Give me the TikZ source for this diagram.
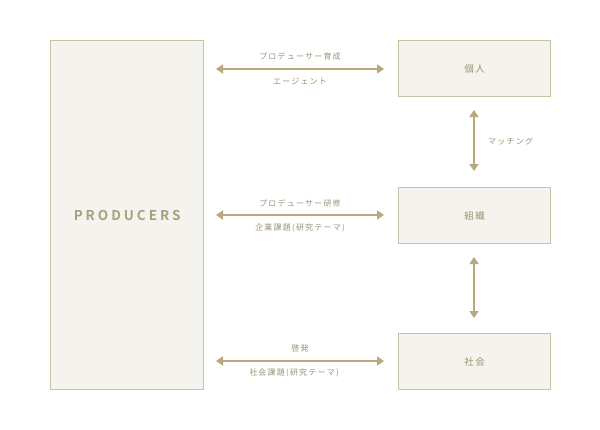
\documentclass[tikz,border=0pt]{standalone}
\usepackage{fontspec}
\setmainfont{Noto Sans CJK JP}
\newfontfamily\prodfont[LetterSpace=22]{Noto Sans CJK JP Bold}
\newfontfamily\lblfont[LetterSpace=15]{Noto Sans CJK JP}
\usetikzlibrary{arrows.meta}
\definecolor{boxfill}{HTML}{F5F3EE}
\definecolor{boxline}{HTML}{C9C3A3}
\definecolor{arrowc}{HTML}{B8A87C}
\definecolor{txtc}{HTML}{9A9274}
\definecolor{prodc}{HTML}{A8A07C}
\tikzset{
  box/.style={draw=boxline, fill=boxfill, line width=1.2pt, inner sep=0pt, text=txtc, font=\fontsize{9.5}{10}\lblfont},
  biarrow/.style={draw=arrowc, line width=2.2pt, {Triangle[length=7pt,width=9pt]}-{Triangle[length=7pt,width=9pt]}},
  lbl/.style={text=txtc, font=\fontsize{8}{9}\lblfont, inner sep=0pt}
}
\begin{document}
\begin{tikzpicture}[x=1pt,y=-1pt]
\useasboundingbox (0,0) rectangle (600,429);
\node[box, minimum width=153pt, minimum height=349pt, anchor=north west] (prod) at (50,40) {};
\node[text=prodc, font=\fontsize{13.5}{14}\prodfont] (prodtxt) at (prod.center) {PRODUCERS};
\node[box, minimum width=152pt, minimum height=56pt, anchor=north west] (kojin) at (398,40) {個人};
\node[box, minimum width=152pt, minimum height=56pt, anchor=north west] (soshiki) at (398,187) {組織};
\node[box, minimum width=152pt, minimum height=56pt, anchor=north west] (shakai) at (398,333) {社会};

\coordinate (a1l) at (216,69); \coordinate (a1r) at (384,69);
\coordinate (a2l) at (216,215); \coordinate (a2r) at (384,215);
\coordinate (a3l) at (216,361); \coordinate (a3r) at (384,361);
\draw[biarrow] (a1l) -- (a1r);
\draw[biarrow] (a2l) -- (a2r);
\draw[biarrow] (a3l) -- (a3r);
\node[lbl] (l1a) at (300,56) {プロデューサー育成};
\node[lbl] (l1b) at (300,81) {エージェント};
\node[lbl] (l2a) at (300,203) {プロデューサー研修};
\node[lbl] (l2b) at (300,228) {企業課題(研究テーマ)};
\node[lbl] (l3a) at (300,348) {啓発};
\node[lbl] (l3b) at (294,373) {社会課題(研究テーマ)};

\coordinate (v1t) at (474,110); \coordinate (v1b) at (474,171);
\coordinate (v2t) at (474,257); \coordinate (v2b) at (474,318);
\draw[biarrow] (v1t) -- (v1b);
\draw[biarrow] (v2t) -- (v2b);
\node[lbl, anchor=west] (match) at (488,141) {マッチング};
\end{tikzpicture}
\end{document}
